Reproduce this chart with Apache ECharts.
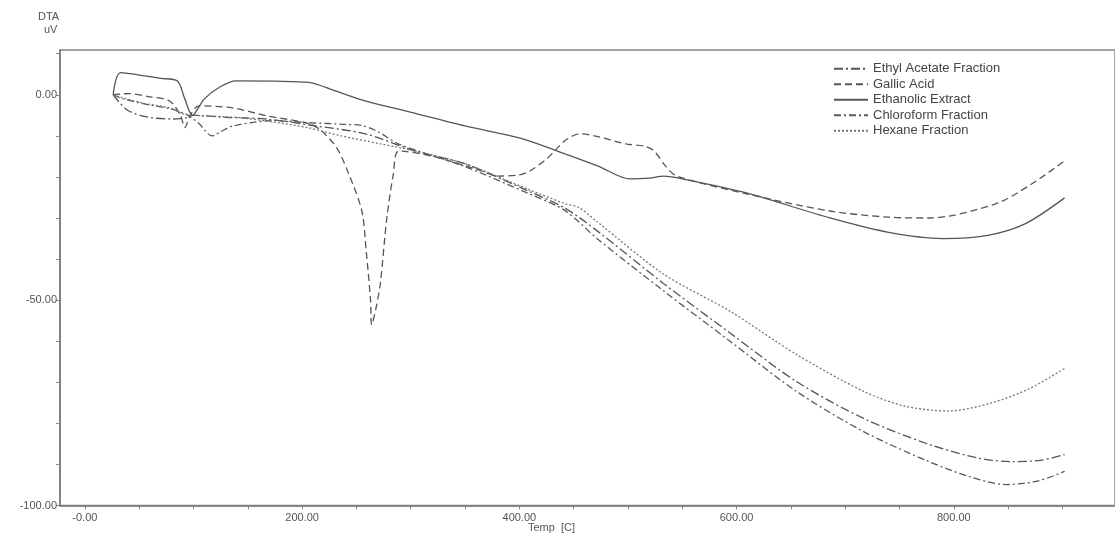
<!DOCTYPE html>
<html>
<head>
<meta charset="utf-8">
<script src="https://cdn.jsdelivr.net/npm/echarts@6/dist/echarts.min.js"></script>
<style>
  html, body { margin: 0; padding: 0; background: #fff; }
  #dta { width: 1115px; height: 543px; }
</style>
</head>
<body>
<div id="dta"></div>
<script>
// DTA curves, [temp C, uV]
var ethylAcetate = [[26,0],[39,-3.7],[57,-5.4],[81,-5.9],[93,-5.6],[100,-5],[130,-5.5],[167,-5.9],[213,-7.6],[258,-9.5],[304,-13.7],[350,-16.8],[408,-23.4],[442,-27.6],[472,-33.2],[533,-46],[594,-58],[655,-69.8],[717,-78.8],[777,-85.1],[823,-88.5],[854,-89.3],[880,-89],[902,-87.6]];
var gallicAcid = [[26,0],[40,0.3],[60,-0.5],[78,-1.5],[88,-5],[92,-8],[97,-5],[105,-2.7],[136,-3.2],[167,-5.1],[206,-7],[218,-8.8],[232,-13],[243,-19.3],[255,-28.3],[259,-38],[263,-50],[264,-56],[268,-52],[272,-46],[278,-30],[284,-19.3],[289,-13.7],[319,-14.9],[365,-18.5],[380,-19.8],[400,-19.5],[410,-18.5],[426,-15.4],[442,-11.2],[456,-9.5],[469,-10],[499,-12],[515,-12.5],[524,-13.7],[535,-17.5],[545,-19.8],[609,-24.1],[686,-28.3],[740,-29.8],[777,-30],[838,-26.6],[870,-22],[902,-16.1]];
var ethanolicExtract = [[26,0],[29,4],[33,5.4],[50,4.8],[70,4],[85,3.4],[92,-1],[99,-5],[110,-1],[125,2],[139,3.4],[175,3.3],[206,3],[230,1],[258,-1.5],[295,-3.9],[350,-7.6],[400,-10.5],[435,-13.7],[472,-17.3],[502,-20.5],[520,-20.3],[533,-19.8],[545,-20.2],[609,-23.9],[686,-30],[740,-33.5],[790,-35],[830,-34.3],[865,-31.5],[902,-25.1]];
var chloroform = [[26,0],[35,-1],[60,-2.5],[80,-3.5],[95,-5],[105,-7],[117,-10],[125,-9],[136,-7.6],[173,-6.3],[206,-6.8],[240,-7.2],[255,-7.5],[270,-9],[289,-12],[350,-17.5],[408,-24],[442,-28.2],[472,-35.1],[533,-47.8],[594,-60],[655,-72.2],[717,-82],[777,-89.3],[815,-93],[848,-94.9],[878,-94],[902,-91.7]];
var hexane = [[26,0],[32,-0.5],[53,-2],[78,-3.2],[90,-4.6],[100,-5],[140,-5.5],[170,-6.5],[205,-8],[236,-10],[273,-12],[304,-13.7],[350,-16.8],[408,-23],[442,-26.5],[455,-27.5],[472,-31],[533,-43.7],[594,-52.7],[655,-63.2],[717,-72.2],[755,-75.8],[795,-77],[835,-75],[870,-71.5],[902,-66.6]];

var xTicks = [0,50,100,150,200,250,300,350,400,450,500,550,600,650,700,750,800,850,900];
var xLabels = [0,200,400,600,800];
var yTicks = [-100,-90,-80,-70,-60,-50,-40,-30,-20,-10,0,10];
var yLabels = [-100,-50,0];

var chart = echarts.init(document.getElementById('dta'));

function line(name, data, dash, color) {
    return {
        name: name,
        type: 'line',
        data: data,
        smooth: 0.3,
        symbol: 'none',
        lineStyle: { color: color, width: 1.3, type: dash },
        itemStyle: { color: color }
    };
}

var font = 'Liberation Sans Narrow, Liberation Sans, Arial';

var option = {
    animation: false,
    backgroundColor: '#fff',
    grid: {
        left: 60, right: -5, top: 50, bottom: 37.5,
        show: true, borderColor: '#888', borderWidth: 1.5
    },
    legend: {
        orient: 'vertical',
        left: 828, top: 56,
        itemWidth: 34, itemHeight: 10, itemGap: 0,
        itemStyle: { opacity: 0 },
        textStyle: { fontSize: 13, lineHeight: 15.5, color: '#444', fontFamily: font },
        data: ['Ethyl Acetate Fraction', 'Gallic Acid', 'Ethanolic Extract', 'Chloroform Fraction', 'Hexane Fraction']
    },
    xAxis: {
        type: 'value',
        min: -22.9, max: 948.4,
        splitLine: { show: false },
        axisLine: { onZero: false, lineStyle: { color: '#777', width: 1.5 } },
        axisTick: { customValues: xTicks, length: 4, lineStyle: { color: '#888' } },
        axisLabel: {
            customValues: xLabels, margin: 7,
            fontSize: 11, color: '#555', fontFamily: font,
            formatter: function (v) { return v === 0 ? '-0.00' : v.toFixed(2); }
        }
    },
    yAxis: {
        type: 'value',
        min: -100, max: 10.9,
        splitLine: { show: false },
        axisLine: { onZero: false, lineStyle: { color: '#777', width: 1.5 } },
        axisTick: { customValues: yTicks, length: 4, lineStyle: { color: '#888' } },
        axisLabel: {
            customValues: yLabels, margin: 3,
            fontSize: 11, color: '#555', fontFamily: font,
            formatter: function (v) { return v.toFixed(2); }
        }
    },
    graphic: [
        { type: 'text', left: 38, top: 11, style: { text: 'DTA', fontSize: 11, fill: '#555', fontFamily: font } },
        { type: 'text', left: 44, top: 24, style: { text: 'uV', fontSize: 11, fill: '#555', fontFamily: font } },
        { type: 'text', left: 528, top: 522, style: { text: 'Temp  [C]', fontSize: 11, fill: '#555', fontFamily: font } }
    ],
    series: [
        line('Ethyl Acetate Fraction', ethylAcetate, [9, 3, 2, 3], '#555'),
        line('Gallic Acid', gallicAcid, [7, 4], '#555'),
        line('Ethanolic Extract', ethanolicExtract, 'solid', '#555'),
        line('Chloroform Fraction', chloroform, [7, 3, 2, 3], '#5a5a5a'),
        line('Hexane Fraction', hexane, [2, 2], '#777')
    ]
};

chart.setOption(option);
</script>
</body>
</html>
